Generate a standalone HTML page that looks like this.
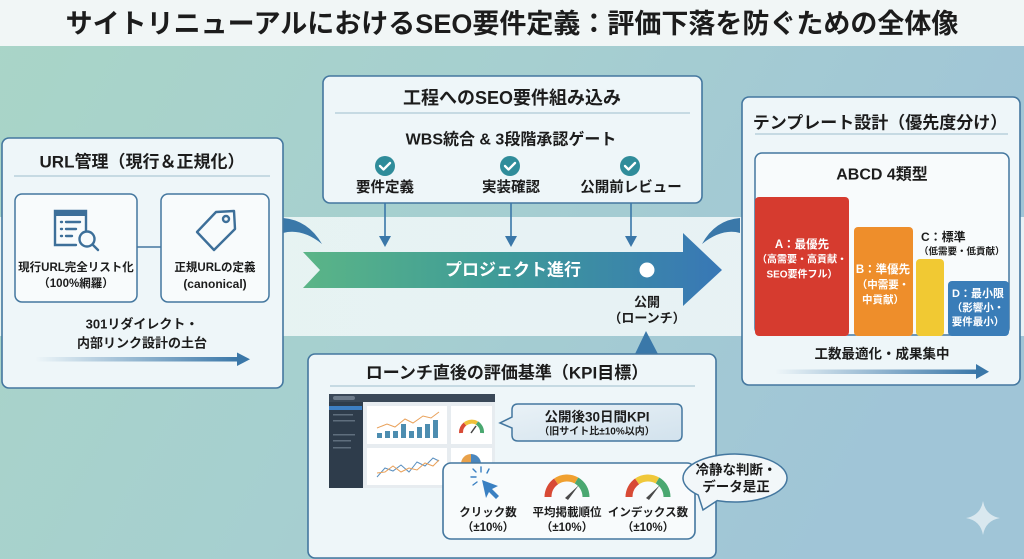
<!DOCTYPE html>
<html><head><meta charset="utf-8">
<style>
html,body{margin:0;padding:0;width:1024px;height:559px;overflow:hidden;background:#a6cfcf;}
svg{display:block;}
text{font-family:"Liberation Sans","Noto Sans CJK JP",sans-serif;font-weight:bold;fill:#1c1c1c;dominant-baseline:central;text-anchor:middle;}
</style></head><body>
<svg width="1024" height="559" viewBox="0 0 1024 559" xmlns="http://www.w3.org/2000/svg">
<defs>
<linearGradient id="bg" x1="0" y1="0" x2="1" y2="0.3">
<stop offset="0" stop-color="#a9d5c7"/><stop offset="0.5" stop-color="#a6cfd0"/><stop offset="1" stop-color="#a0c5d7"/>
</linearGradient>
<linearGradient id="arr" x1="303" y1="0" x2="722" y2="0" gradientUnits="userSpaceOnUse">
<stop offset="0" stop-color="#5bb587"/><stop offset="0.45" stop-color="#3f9c97"/><stop offset="1" stop-color="#3877b6"/>
</linearGradient>
<linearGradient id="fade" x1="0" y1="0" x2="1" y2="0">
<stop offset="0" stop-color="#3a77a8" stop-opacity="0"/><stop offset="1" stop-color="#3a77a8"/>
</linearGradient>
<linearGradient id="call" x1="0" y1="0" x2="1" y2="1"><stop offset="0" stop-color="#eaf2f7"/><stop offset="1" stop-color="#d2e2ed"/></linearGradient>
<linearGradient id="band" x1="0" y1="0" x2="1" y2="0"><stop offset="0" stop-color="#e6f3f1"/><stop offset="1" stop-color="#e8f2f6"/></linearGradient>
</defs>

<!-- background -->
<rect width="1024" height="559" fill="url(#bg)"/>
<rect width="1024" height="46" fill="#f1f6f6"/>
<rect y="217" width="1024" height="119" fill="url(#band)"/>

<!-- title -->
<text x="512" y="24" style="font-size:27px">サイトリニューアルにおけるSEO要件定義：評価下落を防ぐための全体像</text>

<!-- swooshes -->
<path d="M283,218 Q308,220 322,244 Q302,228 283,233 Z" fill="#3a78a9"/>
<path d="M740,218 Q715,220 702,244 Q722,228 740,233 Z" fill="#3a78a9"/>

<!-- main arrow -->
<polygon points="303,252 683,252 683,233 722,270 683,306 683,288 303,288 320,270" fill="url(#arr)"/>
<text x="513" y="270" style="font-size:17px;fill:#ffffff">プロジェクト進行</text>
<circle cx="647" cy="270" r="7.5" fill="#ffffff"/>
<text x="647" y="302" style="font-size:13px">公開</text>
<text x="647" y="318" style="font-size:13px">（ローンチ）</text>
<polygon points="646,331 635,354 658,354" fill="#3a78a9"/>

<!-- LEFT PANEL -->
<rect x="2" y="138" width="281" height="250" rx="7" fill="#eef6f9" stroke="#44779f" stroke-width="1.6"/>
<text x="142" y="162" style="font-size:17px">URL管理（現行＆正規化）</text>
<line x1="14" y1="176" x2="270" y2="176" stroke="#b9d0dc" stroke-width="1.5"/>
<line x1="137" y1="247" x2="161" y2="247" stroke="#44779f" stroke-width="1.6"/>
<rect x="15" y="194" width="122" height="108" rx="7" fill="#f8fbfc" stroke="#44779f" stroke-width="1.5"/>
<rect x="161" y="194" width="108" height="108" rx="7" fill="#f8fbfc" stroke="#44779f" stroke-width="1.5"/>
<!-- list icon -->
<g stroke="#3d6f99" stroke-width="2.4" fill="none" stroke-linecap="round">
<path d="M86,230 V211 H55 V245 H76"/>
<line x1="61" y1="222" x2="62" y2="222"/><line x1="66" y1="222" x2="80" y2="222"/>
<line x1="61" y1="229" x2="62" y2="229"/><line x1="66" y1="229" x2="76" y2="229"/>
<line x1="61" y1="236" x2="62" y2="236"/><line x1="66" y1="236" x2="72" y2="236"/>
<circle cx="87" cy="239" r="7.5"/>
<line x1="92.5" y1="244.5" x2="98" y2="250"/>
</g>
<rect x="55" y="211" width="31" height="5" fill="#3d6f99"/>
<!-- tag icon -->
<g stroke="#3d6f99" stroke-width="2.4" fill="none" stroke-linejoin="round">
<polygon points="197,232 216,212 234,211 235,229 214,250"/>
<circle cx="226" cy="219" r="3"/>
</g>
<text x="76" y="268" style="font-size:11.5px">現行URL完全リスト化</text>
<text x="76" y="284" style="font-size:11.5px">（100%網羅）</text>
<text x="215" y="268" style="font-size:11.5px">正規URLの定義</text>
<text x="215" y="284" style="font-size:12px">(canonical)</text>
<text x="142" y="324" style="font-size:13px">301リダイレクト・</text>
<text x="142" y="343" style="font-size:13px">内部リンク設計の土台</text>
<rect x="35" y="357" width="204" height="4.5" fill="url(#fade)"/>
<polygon points="237,352.5 250,359.3 237,366" fill="#3a77a8"/>

<!-- TOP PANEL -->
<rect x="323" y="76" width="379" height="127" rx="7" fill="#eef6f9" stroke="#44779f" stroke-width="1.6"/>
<text x="512" y="98" style="font-size:18px">工程へのSEO要件組み込み</text>
<line x1="335" y1="113" x2="690" y2="113" stroke="#b9d0dc" stroke-width="1.5"/>
<text x="511" y="140" style="font-size:16px">WBS統合 &amp; 3段階承認ゲート</text>
<g>
<circle cx="385" cy="166" r="10" fill="#2f8c9a"/>
<circle cx="510" cy="166" r="10" fill="#2f8c9a"/>
<circle cx="630" cy="166" r="10" fill="#2f8c9a"/>
<g stroke="#ffffff" stroke-width="2.3" fill="none" stroke-linecap="round" stroke-linejoin="round">
<path d="M380,166 L383.5,169.5 L390,163"/>
<path d="M505,166 L508.5,169.5 L515,163"/>
<path d="M625,166 L628.5,169.5 L635,163"/>
</g>
</g>
<text x="385" y="188" style="font-size:14.5px">要件定義</text>
<text x="511" y="188" style="font-size:14.5px">実装確認</text>
<text x="631" y="188" style="font-size:14.5px">公開前レビュー</text>
<g stroke="#3a77a8" stroke-width="1.6">
<line x1="385" y1="203" x2="385" y2="239"/>
<line x1="511" y1="203" x2="511" y2="239"/>
<line x1="631" y1="203" x2="631" y2="239"/>
</g>
<g fill="#3a77a8">
<polygon points="379,236 391,236 385,247"/>
<polygon points="505,236 517,236 511,247"/>
<polygon points="625,236 637,236 631,247"/>
</g>

<!-- RIGHT PANEL -->
<rect x="742" y="97" width="278" height="288" rx="7" fill="#eef6f9" stroke="#44779f" stroke-width="1.6"/>
<text x="880" y="123" style="font-size:17px">テンプレート設計（優先度分け）</text>
<line x1="755" y1="134" x2="1008" y2="134" stroke="#b9d0dc" stroke-width="1.5"/>
<rect x="755" y="153" width="254" height="182" rx="7" fill="#f8fbfc" stroke="#44779f" stroke-width="1.5"/>
<text x="882" y="175" style="font-size:16px">ABCD 4類型</text>
<rect x="755" y="197" width="94" height="139" rx="4" fill="#d63b2f"/>
<rect x="854" y="227" width="59" height="109" rx="4" fill="#ee8e2b"/>
<rect x="916" y="259" width="28" height="77" rx="4" fill="#f1c933"/>
<rect x="948" y="281" width="61" height="55" rx="4" fill="#3a7db8"/>
<text x="802" y="245" style="font-size:11.5px;fill:#fff">A：最優先</text>
<text x="802" y="260" style="font-size:10px;fill:#fff">（高需要・高貢献・</text>
<text x="802" y="275" style="font-size:10px;fill:#fff">SEO要件フル）</text>
<text x="883" y="270" style="font-size:11.5px;fill:#fff">B：準優先</text>
<text x="883" y="285" style="font-size:10.5px;fill:#fff">（中需要・</text>
<text x="883" y="300" style="font-size:10.5px;fill:#fff">中貢献）</text>
<text x="921" y="237" style="font-size:12px;text-anchor:start">C：標準</text>
<text x="919" y="252" style="font-size:9.5px;text-anchor:start">（低需要・低貢献）</text>
<text x="978" y="294" style="font-size:11px;fill:#fff">D：最小限</text>
<text x="978" y="308" style="font-size:10.5px;fill:#fff">（影響小・</text>
<text x="978" y="322" style="font-size:10.5px;fill:#fff">要件最小）</text>
<text x="882" y="354" style="font-size:13.5px">工数最適化・成果集中</text>
<rect x="775" y="369.5" width="203" height="4.5" fill="url(#fade)"/>
<polygon points="976,364 989,371.7 976,379" fill="#3a77a8"/>

<!-- BOTTOM PANEL -->
<rect x="308" y="354" width="408" height="204" rx="7" fill="#eef6f9" stroke="#44779f" stroke-width="1.6"/>
<text x="507" y="373" style="font-size:17px">ローンチ直後の評価基準（KPI目標）</text>
<line x1="330" y1="386" x2="695" y2="386" stroke="#b9d0dc" stroke-width="1.5"/>

<!-- dashboard -->
<rect x="329" y="394" width="166" height="94" fill="#2e3c4b"/>
<rect x="329" y="394" width="166" height="8" fill="#3a4858"/>
<rect x="333" y="396" width="22" height="4" rx="2" fill="#6d7b8a"/>
<rect x="329" y="406" width="33" height="4" fill="#3d7fc4"/>
<g fill="#5f6e7d">
<rect x="333" y="414" width="20" height="1.5"/>
<rect x="333" y="420" width="22" height="1.5"/>
<rect x="333" y="434" width="22" height="1.5"/>
<rect x="333" y="440" width="18" height="1.5"/>
<rect x="333" y="447" width="18" height="1.5"/>
</g>
<rect x="363" y="402" width="132" height="86" fill="#e7ecf0"/>
<rect x="367" y="406" width="80" height="38" fill="#ffffff"/>
<rect x="451" y="406" width="41" height="38" fill="#ffffff"/>
<rect x="367" y="448" width="80" height="37" fill="#ffffff"/>
<rect x="451" y="448" width="41" height="37" fill="#ffffff"/>
<g fill="#4d8db0">
<rect x="377" y="433" width="5" height="5"/>
<rect x="385" y="431" width="5" height="7"/>
<rect x="393" y="431" width="5" height="7"/>
<rect x="401" y="424" width="5" height="14"/>
<rect x="409" y="431" width="5" height="7"/>
<rect x="417" y="427" width="5" height="11"/>
<rect x="425" y="424" width="5" height="14"/>
<rect x="433" y="420" width="5" height="18"/>
</g>
<polyline points="377,428 387,424 395,427 405,419 413,423 423,416 431,418 439,412" fill="none" stroke="#e9a15a" stroke-width="1"/>
<g stroke-width="4" fill="none">
<path d="M461,433 A11,11 0 0 1 465,424" stroke="#d84a35"/>
<path d="M465,424 A11,11 0 0 1 477,423" stroke="#f0c03a"/>
<path d="M477,423 A11,11 0 0 1 482,433" stroke="#4aa870"/>
</g>
<line x1="471" y1="433" x2="476" y2="426" stroke="#444" stroke-width="1.5"/>
<polyline points="377,477 385,468 393,471 401,465 409,472 417,462 425,466 433,458 439,461" fill="none" stroke="#5a8fbf" stroke-width="1"/>
<polyline points="377,473 385,472 393,466 401,472 409,468 417,470 425,463 433,466 439,460" fill="none" stroke="#e9a15a" stroke-width="1"/>
<path d="M461,464 A10,10 0 0 1 471,454 V464 Z" fill="#e9a14a"/>
<path d="M471,454 A10,10 0 0 1 481,464 H471 Z" fill="#4a86bd"/>

<!-- callout -->
<path d="M518,404 H676 Q682,404 682,410 V435 Q682,441 676,441 H518 Q512,441 512,435 V428 L500,423 L512,417 V410 Q512,404 518,404 Z" fill="url(#call)" stroke="#44779f" stroke-width="1.5"/>
<text x="597" y="417" style="font-size:13.5px">公開後30日間KPI</text>
<text x="597" y="432" style="font-size:10px">（旧サイト比±10%以内）</text>

<!-- KPI box -->
<rect x="443" y="463" width="252" height="76" rx="8" fill="#f8fbfc" stroke="#44779f" stroke-width="1.6"/>
<!-- cursor -->
<polygon points="482,480 498,486 492,489 499,496 496,499 489,492 486,498" fill="#3a80c2"/>
<g stroke="#3a80c2" stroke-width="1.4" stroke-linecap="round">
<line x1="481" y1="467" x2="481" y2="472"/>
<line x1="471" y1="477" x2="476" y2="477"/>
<line x1="473" y1="469" x2="476" y2="472"/>
<line x1="489" y1="469" x2="487" y2="473"/>
<line x1="473" y1="485" x2="477" y2="482"/>
</g>
<!-- gauge 2 -->
<g stroke-width="7" fill="none">
<path d="M548,497 A19,19 0 0 1 556.1,481.4" stroke="#d84a35"/>
<path d="M556.1,481.4 A19,19 0 0 1 576.5,480.5" stroke="#f0a030"/>
<path d="M576.5,480.5 A19,19 0 0 1 586,497" stroke="#4aa870"/>
</g>
<polygon points="565,498 568,500 579,485" fill="#4a4a4a"/>
<!-- gauge 3 -->
<g stroke-width="7" fill="none">
<path d="M629,497 A19,19 0 0 1 637.1,481.4" stroke="#d84a35"/>
<path d="M637.1,481.4 A19,19 0 0 1 657.5,480.5" stroke="#f0c83a"/>
<path d="M657.5,480.5 A19,19 0 0 1 667,497" stroke="#4aa870"/>
</g>
<polygon points="646,498 649,500 660,485" fill="#4a4a4a"/>
<text x="488" y="513" style="font-size:11.5px">クリック数</text>
<text x="488" y="528" style="font-size:11.5px">（±10%）</text>
<text x="567" y="513" style="font-size:11.5px">平均掲載順位</text>
<text x="567" y="528" style="font-size:11.5px">（±10%）</text>
<text x="648" y="513" style="font-size:11.5px">インデックス数</text>
<text x="648" y="528" style="font-size:11.5px">（±10%）</text>

<!-- bubble -->
<path d="M717.2,500.6 L703,510 L698.2,495 A52,24 0 1 1 717.2,500.6 Z" fill="#f2f7f9" stroke="#44779f" stroke-width="1.5"/>
<text x="736" y="470" style="font-size:13.5px">冷静な判断・</text>
<text x="736" y="487" style="font-size:13.5px">データ是正</text>

<!-- sparkle -->
<path d="M983,501 Q985.5,515.5 1000,518 Q985.5,520.5 983,535 Q980.5,520.5 966,518 Q980.5,515.5 983,501 Z" fill="#ffffff" fill-opacity="0.6"/>
</svg>
</body></html>
